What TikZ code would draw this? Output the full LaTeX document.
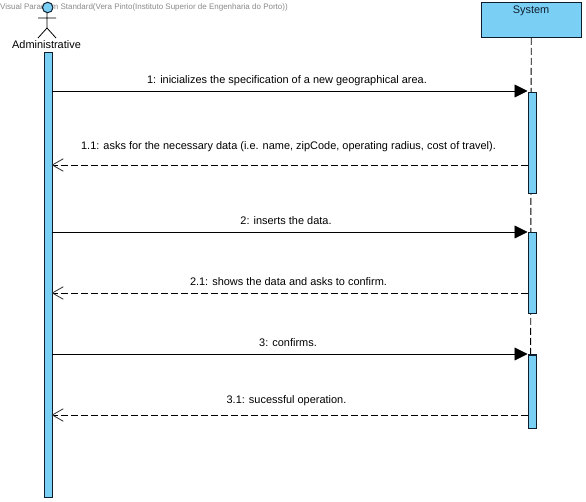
\documentclass[tikz,border=0pt]{standalone}
\usepackage{fontspec}
\setmainfont{Liberation Sans}
\usetikzlibrary{arrows.meta}
\definecolor{fillblue}{HTML}{7ACFF5}
\definecolor{edge}{HTML}{0F1E2D}
\definecolor{wm}{HTML}{8A8A8A}
\tikzset{
  blk/.style={draw=edge,fill=fillblue,line width=1pt},
  msglabel/.style={font=\fontsize{10.95pt}{12pt}\selectfont,text=black,inner sep=0pt,anchor=base},
  callmsg/.style={draw=black,line width=.9pt,-{Triangle[length=13pt,width=13pt,fill=black]}},
  retmsg/.style={draw=black,line width=.9pt,dash pattern=on 7pt off 3pt,-{Straight Barb[length=11pt,width=12.5pt,line width=.8pt,black!80]}},
  lifeline/.style={draw=black,line width=.9pt,dash pattern=on 7pt off 3pt},
  stick/.style={draw=black,line width=.8pt}
}
\begin{document}
\begin{tikzpicture}[x=1pt,y=-1pt]
\useasboundingbox (0,0) rectangle (586,502);
\fill[white] (0,0) rectangle (586,502);
\node[font=\fontsize{8pt}{9pt}\selectfont,text=wm,inner sep=0pt,anchor=base west] (wmark) at (0,10) {Visual Paradigm Standard(Vera Pinto(Instituto Superior de Engenharia do Porto))};
% actor
\coordinate (neck) at (47,13);
\coordinate (hip) at (47,28);
\coordinate (armL) at (38,18);
\coordinate (armR) at (56,18);
\coordinate (legL) at (38,38);
\coordinate (legR) at (56,38);
\draw[stick] (neck) -- (hip) (armL) -- (armR) (legL) -- (hip) -- (legR);
\node[circle,blk,minimum size=10.5pt,inner sep=0pt] (head) at (47.7,7.5) {};
\node[font=\fontsize{10.95pt}{12pt}\selectfont,inner sep=0pt,anchor=base] (actor) at (46.5,49) {Administrative};
% system
\node[blk,minimum width=100.5pt,minimum height=34.5pt,inner sep=0pt,anchor=north west] (sys) at (480.5,2.5) {};
\node[font=\fontsize{10.95pt}{12pt}\selectfont,text=edge,inner sep=0pt,anchor=base] (systxt) at (531,14) {System};
\coordinate (lifeEnd) at (530.5,427.5);
\draw[lifeline] (sys.south) -- (lifeEnd);
% activations
\node[blk,minimum width=8pt,minimum height=444.5pt,inner sep=0pt,anchor=north west] (A) at (43.5,52.5) {};
\node[blk,minimum width=8pt,minimum height=101pt,inner sep=0pt,anchor=north west] (B1) at (527.5,92) {};
\node[blk,minimum width=8pt,minimum height=81pt,inner sep=0pt,anchor=north west] (B2) at (527.5,232.5) {};
\node[blk,minimum width=8pt,minimum height=73pt,inner sep=0pt,anchor=north west] (B3) at (527.5,354.5) {};
% messages
\coordinate (a1) at (51.5,91); \coordinate (b1) at (527.5,91);
\coordinate (a2) at (51.5,165); \coordinate (b2) at (527.5,165);
\coordinate (a3) at (51.5,232); \coordinate (b3) at (527.5,232);
\coordinate (a4) at (51.5,293); \coordinate (b4) at (527.5,293);
\coordinate (a5) at (51.5,354); \coordinate (b5) at (527.5,354);
\coordinate (a6) at (51.5,415); \coordinate (b6) at (527.5,415);
\draw[callmsg] (a1) -- (b1);
\draw[retmsg] (b2) -- (a2);
\draw[callmsg] (a3) -- (b3);
\draw[retmsg] (b4) -- (a4);
\draw[callmsg] (a5) -- (b5);
\draw[retmsg] (b6) -- (a6);
\node[msglabel] (m1) at (287,83.5) {1: inicializes the specification of a new geographical area.};
\node[msglabel] (m2) at (288.5,149.5) {1.1: asks for the necessary data (i.e. name, zipCode, operating radius, cost of travel).};
\node[msglabel] (m3) at (286,224.5) {2: inserts the data.};
\node[msglabel] (m4) at (288.5,285.5) {2.1: shows the data and asks to confirm.};
\node[msglabel] (m5) at (288,346) {3: confirms.};
\node[msglabel] (m6) at (286.5,403) {3.1: sucessful operation.};
\end{tikzpicture}
\end{document}
